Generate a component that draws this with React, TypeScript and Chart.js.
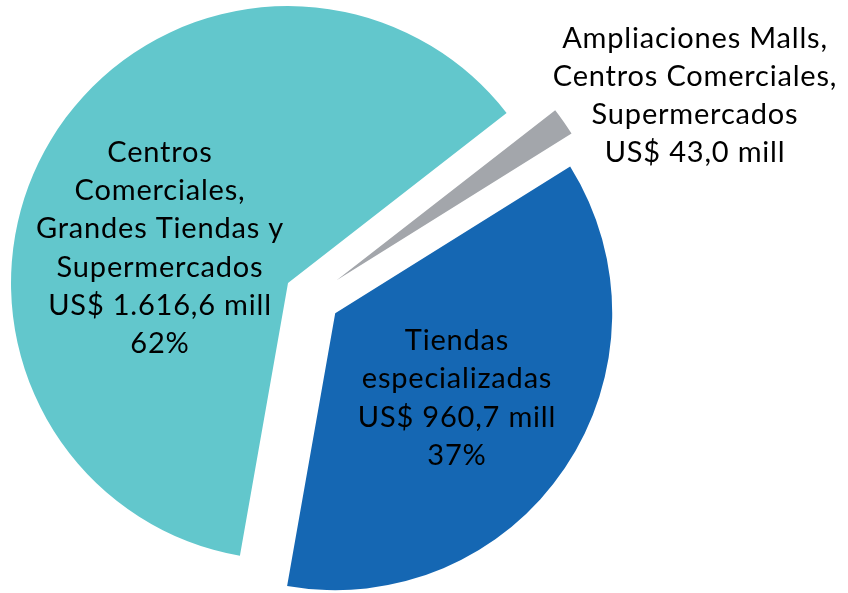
import React, { useEffect, useRef } from "react";
import { Chart, registerables } from "chart.js";

Chart.register(...registerables);

const categories = [
  "Centros Comerciales, Grandes Tiendas y Supermercados",
  "Ampliaciones Malls, Centros Comerciales, Supermercados",
  "Tiendas especializadas",
];
const values = [1616.6, 43.0, 960.7];
const colors = ["#62C7CC", "#A3A6AB", "#1567B3"];
const labelLines = [
  ["Centros", "Comerciales,", "Grandes Tiendas y", "Supermercados", "US$ 1.616,6 mill", "62%"],
  ["Ampliaciones Malls,", "Centros Comerciales,", "Supermercados", "US$ 43,0 mill"],
  ["Tiendas", "especializadas", "US$ 960,7 mill", "37%"],
];

const FONT = "29px Lato, 'Open Sans', sans-serif";
const EXPLODE = [28, 30, 28];
// label anchor: centre x, first baseline y, line height
const LABEL_POS = [
  { x: 160, y: 162, lh: 38.2 },
  { x: 695, y: 48, lh: 38 },
  { x: 457, y: 350, lh: 38.3 },
];

const explodePlugin = {
  id: "explode",
  beforeDatasetDraw(chart: any, args: any) {
    const ctx = chart.ctx;
    args.meta.data.forEach((arc: any, i: number) => {
      const { startAngle, endAngle } = arc.getProps(["startAngle", "endAngle"], true);
      const mid = (startAngle + endAngle) / 2;
      ctx.save();
      ctx.translate(Math.cos(mid) * EXPLODE[i], Math.sin(mid) * EXPLODE[i]);
      arc.draw(ctx);
      ctx.restore();
    });
    return false;
  },
};

const labelPlugin = {
  id: "sliceLabels",
  afterDraw(chart: any) {
    const ctx = chart.ctx;
    ctx.save();
    ctx.font = FONT;
    (ctx as any).letterSpacing = "0.8px";
    ctx.fillStyle = "#000000";
    ctx.textAlign = "center";
    ctx.textBaseline = "alphabetic";
    labelLines.forEach((lines, i) => {
      const p = LABEL_POS[i];
      lines.forEach((t, j) => ctx.fillText(t, p.x, p.y + j * p.lh));
    });
    ctx.restore();
  },
};

export default function App() {
  const ref = useRef<HTMLCanvasElement | null>(null);
  useEffect(() => {
    if (!ref.current) return;
    const chart = new Chart(ref.current, {
      type: "pie",
      data: {
        labels: categories,
        datasets: [
          {
            data: values,
            backgroundColor: colors,
            borderWidth: 0,
            radius: 277,
          } as any,
        ],
      },
      options: {
        animation: false,
        responsive: false,
        rotation: 190,
        layout: { padding: { left: 0, right: 224, top: 2, bottom: 0 } },
        plugins: { legend: { display: false }, tooltip: { enabled: false } },
      },
      plugins: [explodePlugin, labelPlugin],
    });
    return () => chart.destroy();
  }, []);
  return (
    <div style={{ position: "absolute", left: 0, top: 0, width: 848, height: 593, background: "#fff" }}>
      <canvas ref={ref} width={848} height={593} style={{ display: "block" }} />
    </div>
  );
}
